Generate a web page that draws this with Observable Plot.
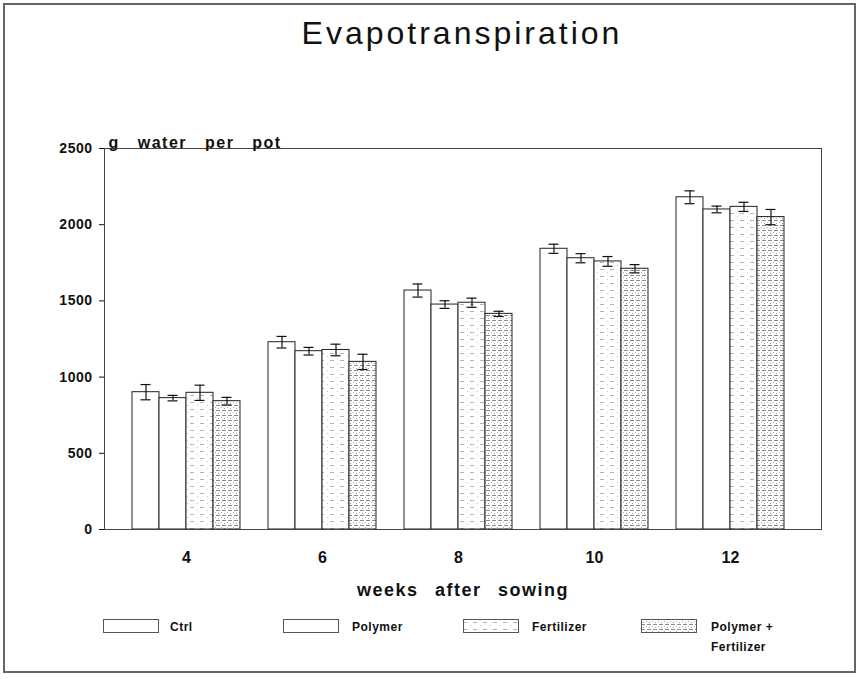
<!DOCTYPE html>
<html><head><meta charset="utf-8">
<script src="https://cdn.jsdelivr.net/npm/d3@7"></script>
<script src="https://cdn.jsdelivr.net/npm/@observablehq/plot@0.6"></script>
<style>
body{margin:0;background:#fff;font-family:"Liberation Sans",Arial,sans-serif;}
#page{position:relative;width:861px;height:679px;overflow:hidden;background:#fff;}
#border{position:absolute;left:3px;top:3px;width:853px;height:670px;border:2px solid #666;box-sizing:border-box;}
#title{position:absolute;top:15px;left:462px;transform:translateX(-50%);white-space:nowrap;font-size:32px;letter-spacing:3px;color:#111;}
#chart{position:absolute;left:0;top:70px;}
#chart g[aria-label^="y-axis"] text{font-size:14px;font-weight:bold;letter-spacing:0.5px;fill:#111;}
#chart g[aria-label^="x-axis"] text{font-size:16px;font-weight:bold;fill:#111;}
.sw{position:absolute;top:619px;width:56px;height:14px;}
.lt{position:absolute;font-size:12px;font-weight:bold;color:#111;letter-spacing:0.5px;line-height:20px;}
</style>
</head><body>
<svg width="0" height="0" style="position:absolute">
  <defs>
    <pattern id="pat-fert" patternUnits="userSpaceOnUse" width="10" height="7">
      <rect width="10" height="7" fill="#fff"/>
      <rect x="0" y="3" width="4" height="1" fill="#b5b5b5"/>
      <rect x="7" y="6" width="1" height="1" fill="#c8c8c8"/>
    </pattern>
    <pattern id="pat-pf" patternUnits="userSpaceOnUse" width="6" height="5">
      <rect width="6" height="5" fill="#fff"/>
      <rect x="0" y="0" width="4" height="1" fill="#8a8a8a"/>
      <rect x="2" y="3" width="1" height="1" fill="#9a9a9a"/>
      <rect x="5" y="2" width="1" height="1" fill="#b0b0b0"/>
    </pattern>
  </defs>
</svg>
<div id="page">
  <div id="border"></div>
  <div id="title">Evapotranspiration</div>
  <div id="chart"></div>
  <div id="legend"></div>
</div>
<script>
const weeks = ["4", "6", "8", "10", "12"];
const series = ["Ctrl", "Polymer", "Fertilizer", "Polymer + Fertilizer"];
const ctrl       = [901, 1229, 1568, 1842, 2180];
const ctrlErr    = [50, 38, 43, 30, 42];
const polymer    = [862, 1170, 1476, 1780, 2100];
const polymerErr = [18, 25, 25, 30, 22];
const fert       = [897, 1178, 1488, 1759, 2117];
const fertErr    = [50, 38, 30, 32, 30];
const pf         = [842, 1100, 1415, 1711, 2050];
const pfErr      = [25, 50, 17, 27, 50];
const yTicks = [0, 500, 1000, 1500, 2000, 2500];
const fills = ["#fff", "#fff", "url(#pat-fert)", "url(#pat-pf)"];

const values = [ctrl, polymer, fert, pf];
const errs = [ctrlErr, polymerErr, fertErr, pfErr];
const rows = series.map((s, i) => weeks.map((w, j) => ({
  series: s, week: w, value: values[i][j],
  lo: values[i][j] - errs[i][j], hi: values[i][j] + errs[i][j]
})));

const bw = 27; // bar width in px within a 108px group
const marks = [];
series.forEach((s, i) => {
  marks.push(Plot.barY(rows[i], {x: "week", y: "value", fill: fills[i], stroke: "#222", strokeWidth: 1,
    insetLeft: bw * i, insetRight: bw * (3 - i)}));
});
series.forEach((s, i) => {
  marks.push(Plot.ruleX(rows[i], {x: "week", y1: "lo", y2: "hi", dx: bw * (i - 1.5), stroke: "#111", strokeWidth: 1.2}));
  marks.push(Plot.tickY(rows[i], {x: "week", y: "hi", stroke: "#111", strokeWidth: 1.2, insetLeft: bw * i + 8.5, insetRight: bw * (3 - i) + 8.5}));
  marks.push(Plot.tickY(rows[i], {x: "week", y: "lo", stroke: "#111", strokeWidth: 1.2, insetLeft: bw * i + 8.5, insetRight: bw * (3 - i) + 8.5}));
});
marks.push(Plot.frame({stroke: "#444", strokeWidth: 1}));
marks.push(Plot.text(["g water per pot"], {frameAnchor: "top-left", textAnchor: "start", lineAnchor: "bottom", dx: 4, dy: -1,
  fontSize: 16, fontWeight: "bold", fill: "#111"}));
marks.push(Plot.text(["weeks after sowing"], {frameAnchor: "bottom", lineAnchor: "top", dy: 54,
  fontSize: 18, fontWeight: "bold", fill: "#111"}));

const chart = Plot.plot({
  width: 861,
  height: 540,
  marginLeft: 104,
  marginRight: 40,
  marginTop: 78,
  marginBottom: 81,
  style: {fontFamily: "'Liberation Sans', Arial, sans-serif", background: "transparent", color: "#111"},
  x: {domain: weeks, paddingInner: 0.206, paddingOuter: 0.239, align: 0.43, tickSize: 0, tickPadding: 22, label: null},
  y: {domain: [0, 2500], ticks: yTicks, tickFormat: d => String(d), tickSize: 5, tickPadding: 7, label: null},
  marks
});
document.getElementById("chart").appendChild(chart);
d3.select(chart).selectAll('g[aria-label="text"]').each(function(d, i) {
  d3.select(this).selectAll("text").style("letter-spacing", "1.5px").style("word-spacing", i === 0 ? "12px" : "10px");
});

// legend
const legendPos = [
  {sx: 103, tx: 170}, {sx: 283, tx: 352}, {sx: 463, tx: 532}, {sx: 641, tx: 711}
];
const legendLabels = ["Ctrl", "Polymer", "Fertilizer", "Polymer +<br>Fertilizer"];
const page = document.getElementById("page");
series.forEach((s, i) => {
  const sw = document.createElement("div");
  sw.className = "sw";
  sw.style.left = legendPos[i].sx + "px";
  sw.innerHTML = `<svg width="56" height="14"><rect x="0.5" y="0.5" width="55" height="13" fill="${fills[i]}" stroke="#555" stroke-width="1"/></svg>`;
  page.appendChild(sw);
  const t = document.createElement("div");
  t.className = "lt";
  t.style.left = legendPos[i].tx + "px";
  t.style.top = "617px";
  t.innerHTML = legendLabels[i];
  page.appendChild(t);
});
</script>
</body></html>
